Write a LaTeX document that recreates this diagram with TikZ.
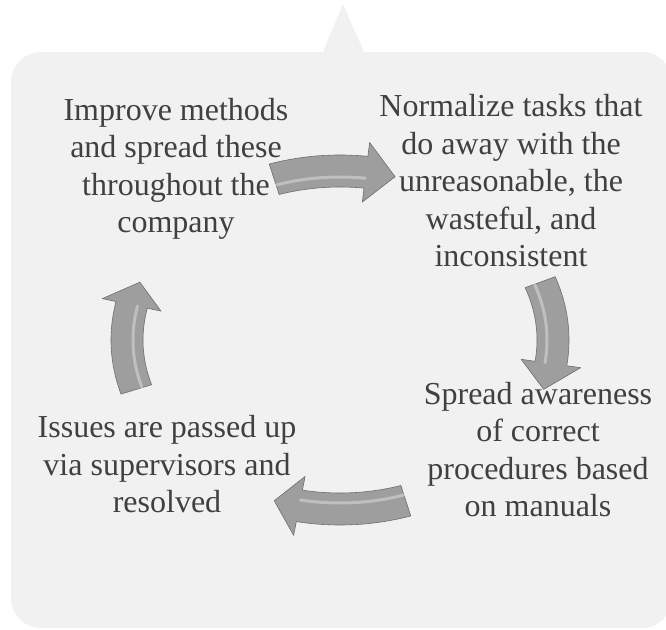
\documentclass[tikz,border=0pt]{standalone}
\usepackage{fontspec}
\setmainfont{Liberation Serif}
\usetikzlibrary{calc}
\definecolor{calloutfill}{RGB}{241,241,241}
\definecolor{steptext}{RGB}{64,64,64}
\definecolor{arrowgray}{RGB}{158,158,158}
\definecolor{arrowedge}{RGB}{110,110,110}

% curved block arrow on the cycle: tail, head base and tip angles
\newcommand{\cyclearrow}[3]{%
  \draw[arrowbody] ($(C)+(#1:229 and 185)$) arc[start angle=#1, end angle=#2, x radius=229, y radius=185]
    -- ($(C)+(#2:243 and 199)$) -- ($(C)+(#3:213 and 169)$) -- ($(C)+(#2:183 and 139)$)
    -- ($(C)+(#2:197 and 153)$) arc[start angle=#2, end angle=#1, x radius=197, y radius=153] -- cycle;
  \draw[arrowshine] ($(C)+(#1:207 and 163)$) arc[start angle=#1, end angle=#2, x radius=207, y radius=163];
}

\begin{document}
\begin{tikzpicture}[
    x=1pt, y=1pt,
    steplabel/.style={text=steptext, align=center, anchor=base, inner sep=0pt, font=\fontsize{32}{37.5}\selectfont},
    arrowbody/.style={fill=arrowgray, draw=arrowedge, line width=0.6pt, line join=round},
    arrowshine/.style={draw=white, opacity=0.35, line width=3pt, line cap=round}
]
\useasboundingbox (0,0) rectangle (666,629);
\clip (0,0) rectangle (666,629);

% Callout background
\fill[calloutfill, rounded corners=30pt] (11,1) rectangle (672,577);
\fill[calloutfill] (323,577) -- (343,625) -- (364,577) -- cycle;

% Steps (placed by the baseline of their last line)
\node[steplabel] (improve) at (176,396) {Improve methods\\and spread these\\throughout the\\company};
\node[steplabel] (normalize) at (511,362) {Normalize tasks that\\do away with the\\unreasonable, the\\wasteful, and\\inconsistent};
\node[steplabel] (spread) at (538,112) {Spread awareness\\of correct\\procedures based\\on manuals};
\node[steplabel] (issues) at (167,116) {Issues are passed up\\via supervisors and\\resolved};

% Cycle arrows
\coordinate (C) at (340,289);
\cyclearrow{108}{83}{75}
\cyclearrow{20}{-8}{-17}
\cyclearrow{-72}{-101}{-108}
\cyclearrow{197}{168}{160}

\end{tikzpicture}
\end{document}
